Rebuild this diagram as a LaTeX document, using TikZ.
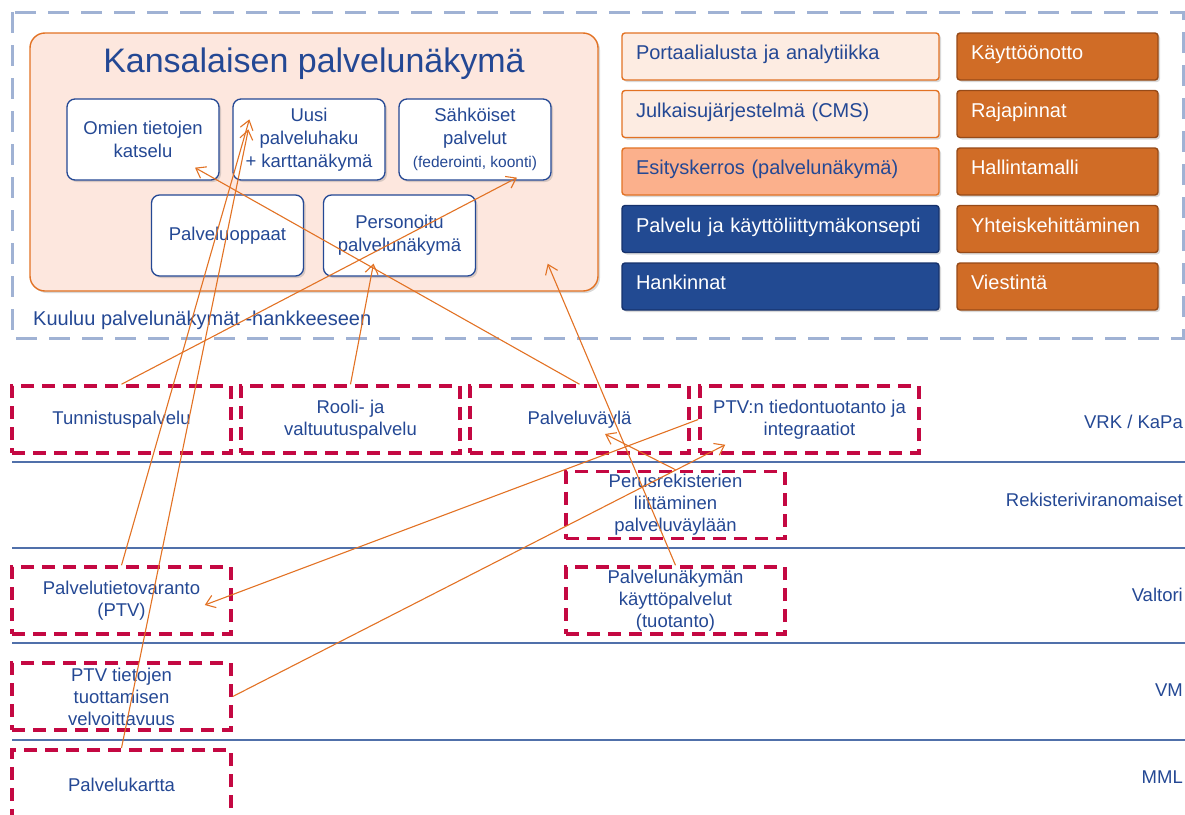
\documentclass[tikz,border=0pt]{standalone}
\usepackage{fontspec}
\setmainfont{Liberation Sans}
\usetikzlibrary{positioning,arrows.meta,shadows,calc}

\definecolor{pvblue}{RGB}{36,72,148}
\definecolor{pvorange}{RGB}{226,114,36}
\definecolor{pvpeach}{RGB}{253,231,222}
\definecolor{pvlight}{RGB}{253,236,226}
\definecolor{pvsalmon}{RGB}{251,176,140}
\definecolor{pvnavy}{RGB}{34,74,146}
\definecolor{pvnavyline}{RGB}{22,50,108}
\definecolor{pvrust}{RGB}{208,108,38}
\definecolor{pvrustline}{RGB}{150,74,24}
\definecolor{pvcrimson}{RGB}{196,8,66}
\definecolor{pvlane}{RGB}{80,112,170}
\definecolor{pvframe}{RGB}{160,178,212}

\tikzset{
	txt/.style={font=\fontsize{18.5}{23}\selectfont, text=pvblue, align=center},
	shade box/.style={drop shadow={shadow xshift=2pt, shadow yshift=-2pt, opacity=0.3}},
	innerbox/.style={txt, shade box, draw=pvblue, line width=1.3pt, fill=white,
		rounded corners=8pt, minimum width=152pt, minimum height=81pt, inner ysep=1pt},
	layerbox/.style={shade box, font=\fontsize{20}{24}\selectfont, line width=1.4pt,
		rounded corners=3pt, minimum width=317pt, minimum height=47pt,
		inner xsep=14pt, text width=289pt, text height=14.6pt, text depth=8pt, align=left},
	lightbox/.style={layerbox, fill=pvlight, draw=pvorange, text=pvblue},
	salmonbox/.style={layerbox, fill=pvsalmon, draw=pvorange, text=pvblue},
	navybox/.style={layerbox, fill=pvnavy, draw=pvnavyline, text=white},
	rustbox/.style={layerbox, fill=pvrust, draw=pvrustline, text=white,
		minimum width=201pt, text width=173pt},
	taskbox/.style={txt, font=\fontsize{18.5}{22}\selectfont, draw=pvcrimson, line width=3.5pt,
		dash pattern=on 13pt off 8pt, minimum width=219pt, minimum height=67pt, inner ysep=0pt},
	lanelabel/.style={font=\fontsize{18.5}{22}\selectfont, text=pvblue, anchor=east, inner sep=0pt},
	link/.style={draw=pvorange, line width=1.1pt, -{Straight Barb[length=9pt,width=13pt]}}
}

\begin{document}
\begin{tikzpicture}[x=1pt, y=-1pt]
	\useasboundingbox (0,0) rectangle (1185,814);

	% Frame
	\draw [pvframe, line width=3pt, dash pattern=on 21pt off 12pt] (12,12) rectangle (1183,338);

	% Kansalaisen palvelunakyma
	\node [shade box, draw=pvorange, line width=1.4pt, fill=pvpeach, rounded corners=15pt,
		minimum width=568pt, minimum height=258pt] (kansa) at (314,162) {};
	\node [text=pvblue, font=\fontsize{34}{40}\selectfont] (otsikko) at (314,64) {Kansalaisen palvelunäkymä};
	\node [innerbox] (omien) at (143,139.5) {Omien tietojen\\katselu};
	\node [innerbox] (uusi) at (309,139.5) {Uusi\\palveluhaku\\+ karttanäkymä};
	\node [innerbox] (sahk) at (475,139.5) {Sähköiset\\palvelut\\{\fontsize{15.5}{20}\selectfont (federointi, koonti)}};
	\node [innerbox] (oppaat) at (227.5,235.5) {Palveluoppaat};
	\node [innerbox] (personoitu) at (399.5,235.5) {Personoitu\\palvelunäkymä};
	\node [anchor=west, inner sep=0pt, text=pvblue, font=\fontsize{20}{24}\selectfont] (kuuluu) at (33,320) {Kuuluu palvelunäkymät -hankkeeseen};

	% Layers
	\node [lightbox] (kerros0) at (780.5,56.5) {Portaalialusta ja analytiikka};
	\node [lightbox] (kerros1) at (780.5,114) {Julkaisujärjestelmä (CMS)};
	\node [salmonbox] (kerros2) at (780.5,171.5) {Esityskerros (palvelunäkymä)};
	\node [navybox] (kerros3) at (780.5,229) {Palvelu ja käyttöliittymäkonsepti};
	\node [navybox] (kerros4) at (780.5,286.5) {Hankinnat};
	\foreach \t [count=\i from 0] in {Käyttöönotto, Rajapinnat, Hallintamalli, Yhteiskehittäminen, Viestintä} {
		\node [rustbox] (tuki\i) at (1057.5,56.5+57.5*\i) {\t};
	}

	% Lanes
	\foreach \y in {462, 548, 643, 740} {
		\draw [pvlane, line width=1.5pt] (12,\y) -- (1185,\y);
	}
	\node [lanelabel] (vrk) at (1183,422) {VRK / KaPa};
	\node [lanelabel] (rekisteri) at (1183,500) {Rekisteriviranomaiset};
	\node [lanelabel] (valtori) at (1183,595) {Valtori};
	\node [lanelabel] (vm) at (1183,690) {VM};
	\node [lanelabel] (mml) at (1183,777) {MML};

	% Tasks
	\node [taskbox] (tunnis) at (121.5,419.5) {Tunnistuspalvelu};
	\node [taskbox] (rooli) at (350.5,419.5) {Rooli- ja\\valtuutuspalvelu};
	\node [taskbox] (vayla) at (579.5,419.5) {Palveluväylä};
	\node [taskbox] (ptvn) at (809.5,419.5) {PTV:n tiedontuotanto ja\\integraatiot};
	\node [taskbox] (perus) at (675.5,505) {Perusrekisterien\\liittäminen\\palveluväylään};
	\node [taskbox] (ptv) at (121.5,600.5) {Palvelutietovaranto\\(PTV)};
	\node [taskbox] (kaytto) at (675.5,600.5) {Palvelunäkymän\\käyttöpalvelut\\(tuotanto)};
	\node [taskbox] (velvo) at (121.5,696.5) {PTV tietojen\\tuottamisen\\velvoittavuus};
	\node [taskbox, anchor=north, minimum height=70pt] (kartta) at (121.5,748) {Palvelukartta};

	% Links
	\draw [link] (tunnis.north) -- ($(sahk.south)+(42,-3)$);
	\draw [link] (ptv.north) -- ($(uusi.north west)+(17,21)$);
	\draw [link] (kartta.north) -- ($(uusi.north west)+(16,31)$);
	\draw [link] (rooli.north) -- ($(personoitu.south)+(-26,-13)$);
	\draw [link] (vayla.north) -- ($(omien.south)+(52,-13)$);
	\draw [link] (kaytto.north) -- ($(kansa.south east)+(-51,-28)$);
	\draw [link] (ptvn.west) -- ($(ptv.east)+(-28,4.5)$);
	\draw [link] (velvo.east) -- ($(ptvn.south west)+(27,-10)$);
	\draw [link] (perus.north) -- ($(vayla.center)+(25.5,14.5)$);
\end{tikzpicture}
\end{document}
